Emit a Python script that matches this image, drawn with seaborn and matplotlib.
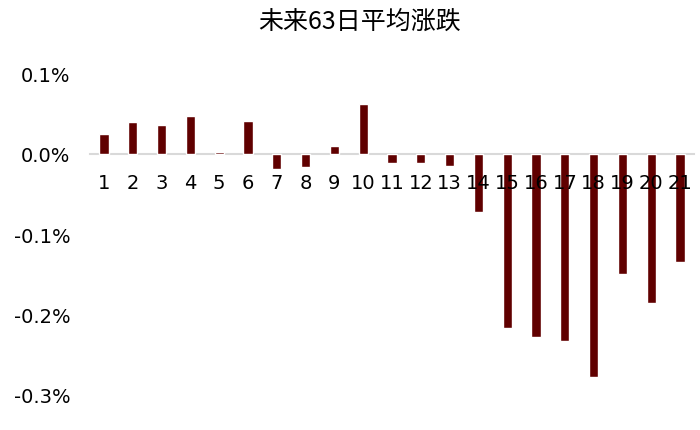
import pandas as pd
import seaborn as sns
import matplotlib.pyplot as plt

days = [str(i) for i in range(1, 22)]
avg_change = [0.025, 0.040, 0.036, 0.047, 0.003, 0.041, -0.019, -0.016, 0.010, 0.063,
              -0.011, -0.011, -0.015, -0.073, -0.217, -0.229, -0.234, -0.279, -0.150, -0.186, -0.135]
ytick_vals = [0.1, 0.0, -0.1, -0.2, -0.3]
ytick_labels = ['0.1%', '0.0%', '-0.1%', '-0.2%', '-0.3%']
title = '未来63日平均涨跌'

df = pd.DataFrame({'day': days, 'chg': avg_change})

sns.set_style('white')
plt.rcParams['font.family'] = ['DejaVu Sans', 'Noto Sans CJK SC']
plt.rcParams['text.color'] = 'black'
plt.rcParams['xtick.color'] = 'black'
plt.rcParams['ytick.color'] = 'black'

fig = plt.figure(figsize=(7, 4.31), dpi=100)
ax = fig.add_axes([0.128, 0.0835, 0.864, 0.7425])

sns.barplot(data=df, x='day', y='chg', color='#600000', width=0.32,
            saturation=1, ax=ax)

ax.set_ylim(-0.3, 0.1)
ax.set_xlim(-0.5, 20.5)
ax.set_yticks(ytick_vals)
ax.set_yticklabels(ytick_labels)
ax.set_xlabel('')
ax.set_ylabel('')

# tick numbers sit on top of the bars, like the original
for p in ax.patches:
    p.set_zorder(1)
ax.xaxis.set_zorder(5)

for s in ['top', 'right', 'left']:
    ax.spines[s].set_visible(False)
ax.spines['bottom'].set_position(('data', 0))
ax.spines['bottom'].set_color('#d9d9d9')
ax.spines['bottom'].set_linewidth(1.5)
ax.spines['bottom'].set_zorder(0)

ax.tick_params(axis='x', length=0, pad=14, labelsize=14)
ax.tick_params(axis='y', length=0, pad=14, labelsize=14)

fig.text(0.514, 0.949, title, ha='center', va='center', fontsize=18,
         family=['Noto Sans CJK SC', 'DejaVu Sans'])

fig.savefig('out.png', dpi=100)
